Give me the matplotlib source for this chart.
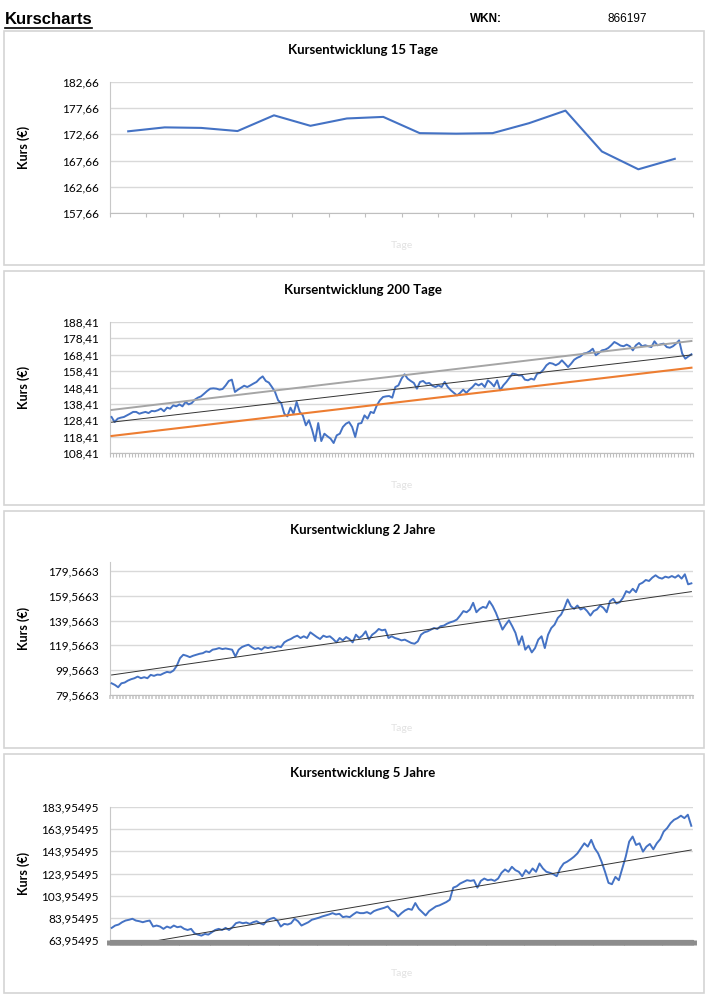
import numpy as np
import matplotlib
matplotlib.use("Agg")
from matplotlib import pyplot as plt
from matplotlib.lines import Line2D
from matplotlib.patches import Rectangle

plt.rcParams['font.family'] = ['Lato', 'DejaVu Sans']

# Kursdaten
kurs_15 = [173.25, 174.0, 173.9, 173.3, 176.3, 174.3, 175.7, 176.0, 172.9, 172.8,
           172.9, 174.8, 177.2, 169.4, 166.0, 168.0]

kurs_200 = [130.4, 127.3, 129.4, 130.0, 130.4, 131.4, 132.4, 133.5, 133.5, 132.4,
            133.0, 133.5, 132.8, 134.1, 133.9, 134.5, 135.5, 133.9, 136.1, 135.5,
            137.5, 136.9, 138.1, 136.9, 139.6, 138.1, 138.9, 141.0, 142.2, 143.0,
            144.6, 146.3, 147.7, 147.9, 147.7, 147.1, 147.5, 149.7, 152.4, 153.2,
            145.7, 147.1, 148.3, 149.5, 148.7, 149.7, 150.8, 151.8, 153.8, 155.2,
            152.4, 151.4, 148.7, 145.7, 140.6, 138.9, 132.4, 130.8, 136.1, 132.4,
            139.6, 133.5, 131.4, 125.3, 128.4, 122.7, 115.7, 126.7, 115.7, 120.2,
            118.6, 117.2, 114.5, 119.2, 120.2, 124.3, 126.3, 127.3, 124.3, 118.2,
            126.3, 126.7, 131.4, 129.4, 133.5, 132.8, 137.5, 140.6, 142.6, 143.0,
            143.2, 142.2, 148.7, 149.7, 153.8, 156.5, 153.8, 152.4, 151.2, 147.7,
            151.8, 152.4, 150.8, 151.2, 149.5, 148.7, 149.7, 148.7, 151.8, 148.7,
            146.7, 145.1, 143.6, 145.1, 147.1, 145.1, 147.1, 148.7, 150.8, 149.7,
            150.8, 148.7, 152.8, 151.2, 149.1, 152.8, 146.7, 149.7, 151.8, 154.4,
            156.9, 156.5, 155.8, 155.8, 153.2, 152.8, 153.8, 153.2, 156.9, 157.3,
            159.3, 162.0, 163.4, 163.0, 162.0, 163.0, 165.0, 163.0, 160.9, 163.0,
            165.4, 166.6, 167.4, 169.1, 169.5, 170.5, 172.1, 168.1, 169.5, 171.1,
            171.5, 172.5, 174.2, 176.2, 175.2, 174.0, 173.6, 174.6, 173.6, 171.1,
            174.2, 175.6, 173.6, 174.2, 173.6, 173.1, 176.6, 174.2, 174.8, 175.2,
            173.1, 172.7, 173.6, 175.2, 177.2, 169.1, 166.0, 167.4, 168.7]

kurs_2j = [89.0, 87.7, 85.8, 89.0, 89.6, 91.2, 92.3, 93.1, 94.4, 93.1,
           93.9, 93.1, 95.8, 95.0, 96.0, 95.8, 97.1, 98.2, 97.7, 99.3,
           103.1, 109.3, 112.0, 111.2, 110.1, 111.2, 112.0, 112.8, 113.3, 114.7,
           114.2, 116.1, 116.6, 117.4, 116.6, 117.1, 116.6, 116.1, 110.6, 116.1,
           118.2, 119.3, 120.1, 118.2, 116.6, 117.4, 116.1, 118.2, 117.4, 118.2,
           117.4, 118.8, 118.2, 122.0, 123.6, 124.7, 126.3, 127.4, 125.5, 126.9,
           125.5, 130.1, 128.2, 126.3, 124.7, 127.4, 126.3, 126.9, 124.7, 122.0,
           125.5, 123.6, 126.3, 124.7, 122.0, 128.2, 125.5, 127.4, 130.9, 124.2,
           128.2, 130.1, 132.8, 131.7, 132.3, 125.5, 126.9, 125.5, 124.7, 123.6,
           124.2, 122.8, 121.5, 120.9, 122.8, 128.2, 130.1, 130.9, 132.3, 133.6,
           132.8, 135.0, 135.5, 137.1, 138.2, 139.0, 140.4, 143.6, 147.2, 146.3,
           148.5, 153.9, 146.3, 149.0, 150.6, 149.8, 155.2, 151.2, 145.8, 139.0,
           132.3, 136.3, 139.8, 135.0, 129.6, 120.1, 126.9, 116.1, 119.3, 113.9,
           117.4, 124.2, 126.9, 117.4, 128.2, 133.6, 136.3, 141.7, 144.4, 149.8,
           156.6, 151.2, 149.0, 151.7, 148.5, 149.8, 147.2, 143.6, 147.2, 148.5,
           151.7, 149.8, 146.3, 155.2, 157.1, 153.3, 154.4, 157.9, 163.3, 162.0,
           165.2, 162.5, 168.8, 170.1, 172.3, 171.5, 174.2, 176.1, 174.2, 173.4,
           175.0, 174.2, 175.5, 174.2, 176.1, 173.4, 176.9, 168.8, 169.6]

kurs_5j = [74.9, 77.0, 77.9, 80.0, 81.5, 82.2, 83.1, 81.5, 80.9, 80.0,
           80.9, 81.5, 76.1, 77.0, 76.1, 74.0, 76.1, 74.9, 77.0, 75.5,
           76.1, 74.0, 73.0, 74.0, 70.0, 68.8, 67.9, 69.4, 68.8, 70.9,
           73.0, 74.0, 73.0, 74.9, 73.0, 75.5, 79.1, 80.0, 79.1, 79.7,
           78.5, 80.0, 80.9, 79.1, 77.9, 81.5, 83.1, 84.0, 81.5, 76.1,
           78.5, 77.9, 79.1, 83.1, 80.9, 77.0, 78.5, 80.0, 82.2, 83.1,
           84.0, 85.2, 86.1, 87.0, 88.2, 87.0, 87.6, 84.6, 85.2, 84.6,
           87.0, 89.1, 88.2, 88.2, 89.1, 87.6, 90.0, 91.2, 92.1, 93.0,
           94.3, 90.6, 89.1, 85.2, 88.2, 90.6, 92.1, 91.2, 97.3, 92.1,
           89.1, 86.1, 90.0, 92.1, 94.3, 95.2, 96.7, 98.2, 100.3, 111.2,
           112.4, 114.9, 116.4, 117.9, 117.3, 117.9, 111.2, 117.3, 119.4, 117.9,
           118.5, 117.3, 119.4, 124.6, 127.6, 125.5, 130.0, 127.0, 125.5, 121.5,
           127.0, 124.0, 128.5, 125.5, 133.0, 128.5, 125.5, 124.6, 123.4, 121.5,
           128.5, 133.0, 134.6, 136.7, 139.1, 142.1, 146.7, 151.2, 148.2, 154.3,
           146.7, 142.1, 134.6, 125.5, 115.5, 114.3, 120.9, 117.9, 128.5, 139.1,
           152.7, 157.3, 149.7, 151.2, 143.7, 148.2, 150.6, 145.8, 151.2, 154.9,
           161.8, 164.9, 169.4, 172.4, 173.9, 176.1, 173.9, 177.0, 167.0]

# Trendlinien (Anfangs- und Endwert)
trend_200_grau = [134.7, 176.8]
trend_200_schwarz = [127.2, 168.3]
trend_200_orange = [118.8, 160.5]
trend_2j = [95.7, 162.9]
trend_5j = [56.4, 145.2]

# y-Achsen
yticks_15 = [157.66 + 5 * i for i in range(6)]
yticks_200 = [108.41 + 10 * i for i in range(9)]
yticks_2j = [79.5663 + 20 * i for i in range(6)]
yticks_5j = [63.95495 + 20 * i for i in range(7)]

W, H = 706, 998
BLAU = "#4472C4"
GRID = "#d9d9d9"


def rect(x0, y0, x1, y1):
    return [x0 / W, 1 - y1 / H, (x1 - x0) / W, (y1 - y0) / H]


def chart(fig, box_px, ax_px, titel, werte, yticks, nachkomma, ylim,
          lw=1.4, tick_col="#bfbfbf", tick_w=0.8, tick_len=3, spine_col="#bfbfbf"):
    # Rahmen
    x0, y0, x1, y1 = box_px
    fig.patches.append(Rectangle((x0 / W, 1 - y1 / H), (x1 - x0) / W, (y1 - y0) / H,
                                 transform=fig.transFigure, fill=False,
                                 edgecolor="#d4d4d4", linewidth=1.2))
    ax = fig.add_axes(rect(*ax_px))
    n = len(werte)
    x = np.arange(n) + 0.5
    ax.plot(x, werte, color=BLAU, linewidth=lw, zorder=3)
    ax.set_xlim(0, n)
    ax.set_ylim(*ylim)
    ax.set_yticks(yticks)
    ax.set_yticklabels([f"{v:.{nachkomma}f}".replace(".", ",") for v in yticks], fontsize=8.5)
    ax.tick_params(axis="y", length=0, pad=8)
    ax.set_xticks(np.arange(n + 1))
    ax.set_xticklabels([])
    ax.tick_params(axis="x", length=tick_len, width=tick_w, color=tick_col, direction="out")
    ax.grid(axis="y", color=GRID, linewidth=1)
    ax.set_axisbelow(True)
    for s in ["top", "right"]:
        ax.spines[s].set_visible(False)
    ax.spines["left"].set_color("#c8c8c8")
    ax.spines["bottom"].set_color(spine_col)
    ax.set_ylabel("Kurs (€)", fontsize=9, fontweight="bold")
    ax.yaxis.set_label_coords(-0.137, 0.5)
    ax.set_xlabel("Tage", fontsize=7.5, color="#e2e2e2")
    ax.xaxis.set_label_coords(0.5, (ax_px[3] - (box_px[3] - 24)) / (ax_px[3] - ax_px[1]))
    fig.text(363 / W, 1 - (y0 + 19) / H, titel, ha="center", va="center",
             fontsize=9.5, fontweight="bold")
    return ax, x


fig = plt.figure(figsize=(W / 100, H / 100), dpi=100)

# Kopfzeile
fig.text(5 / W, 1 - 19 / H, "Kurscharts", family=["Liberation Sans"], fontsize=12,
         fontweight="bold", va="center")
fig.add_artist(Line2D([5 / W, 92 / W], [1 - 28 / H, 1 - 28 / H], color="black", linewidth=1.2))
fig.text(470 / W, 1 - 19 / H, "WKN:", family=["Liberation Sans"], fontsize=8.5,
         fontweight="bold", va="center")
fig.text(607 / W, 1 - 19 / H, "866197", family=["Liberation Sans"], fontsize=8.5, va="center")

# 15 Tage
ax1, x1 = chart(fig, (4, 31, 704, 265), (110, 82, 693, 213), "Kursentwicklung 15 Tage",
                kurs_15, yticks_15, 2, (157.66, 182.66), lw=1.5)

# 200 Tage
ax2, x2 = chart(fig, (4, 271, 704, 505), (110, 322, 693, 453), "Kursentwicklung 200 Tage",
                kurs_200, yticks_200, 2, (108.41, 188.41), lw=1.4)
ax2.plot([x2[0], x2[-1]], trend_200_grau, color="#a5a5a5", linewidth=1.4, zorder=4)
ax2.plot([x2[0], x2[-1]], trend_200_schwarz, color="#333333", linewidth=0.7, zorder=4)
ax2.plot([x2[0], x2[-1]], trend_200_orange, color="#ED7D31", linewidth=1.5, zorder=4)

# 2 Jahre
ax3, x3 = chart(fig, (4, 511, 704, 748), (110, 562, 693, 695), "Kursentwicklung 2 Jahre",
                kurs_2j, yticks_2j, 4, (79.5663, 186.8), lw=1.4, tick_col="#c8c8c8", tick_w=1.2)
ax3.plot([x3[0], x3[-1]], trend_2j, color="#333333", linewidth=0.7, zorder=4)

# 5 Jahre (dichte Ticks -> geschlossenes Band)
ax4, x4 = chart(fig, (4, 754, 704, 993), (110, 807, 693, 940), "Kursentwicklung 5 Jahre",
                kurs_5j, yticks_5j, 5, (63.95495, 183.95495), lw=1.4,
                tick_col="#8c8c8c", tick_w=5, tick_len=3.5, spine_col="#8c8c8c")
ax4.plot([x4[0], x4[-1]], trend_5j, color="#333333", linewidth=0.7, zorder=4)

fig.savefig("out.png", dpi=100)
